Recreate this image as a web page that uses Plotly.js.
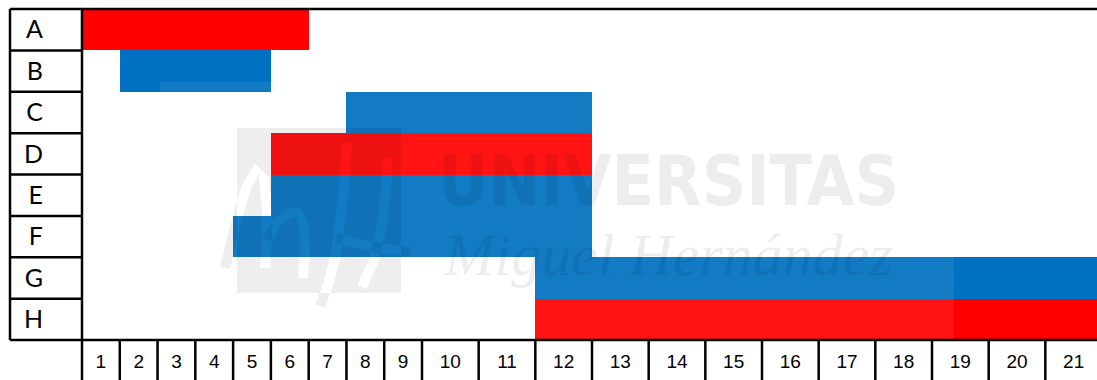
<!DOCTYPE html>
<html>
<head>
<meta charset="utf-8">
<script src="https://cdn.plot.ly/plotly-3.0.1.min.js"></script>
<style>
html,body{margin:0;padding:0;background:#ffffff;}
#chart{width:1097px;height:380px;}
</style>
</head>
<body>
<div id="chart"></div>
<script>
// ---------------- DATA ----------------
const tasks = ['A', 'B', 'C', 'D', 'E', 'F', 'G', 'H'];
const startDay = [1, 2, 8, 6, 6, 5, 12, 12];
const endDay = [6, 5, 12, 12, 12, 12, 21, 21];
const taskColors = ['#FF0000', '#0070C0', '#0070C0', '#FF0000', '#0070C0', '#0070C0', '#0070C0', '#FF0000'];
const days = [1, 2, 3, 4, 5, 6, 7, 8, 9, 10, 11, 12, 13, 14, 15, 16, 17, 18, 19, 20, 21];
const dayLabels = ['1', '2', '3', '4', '5', '6', '7', '8', '9', '10', '11', '12', '13', '14', '15', '16', '17', '18', '19', '20', '21'];
const watermarkTitle = 'UNIVERSITAS';
const watermarkSubtitle = 'Miguel Hernández';

// ---------------- LAYOUT GEOMETRY ----------------
const W = 1097, H = 380;
const M = {l: 82, r: 0, t: 9, b: 40};
const plotW = W - M.l - M.r, plotH = H - M.t - M.b;
// columns 1..9 are narrow, 10.. are 1.5x wider (as in the spreadsheet)
function colUnit(d) { return d <= 9 ? 1 : 1.5; }
function edge(d) { let s = 0; for (let k = 1; k <= d; k++) s += colUnit(k); return s; }
const narrowPx = (422 - 82) / 9;
const xMax = plotW / narrowPx;

const px2x = px => (px - M.l) / plotW;
const py2y = py => (H - M.b - py) / plotH;

const bases = startDay.map(s => edge(s - 1));
const lengths = startDay.map((s, i) => edge(endDay[i]) - edge(s - 1));
const tickCenters = days.map(d => edge(d - 1) + colUnit(d) / 2);

// ---------------- TRACE ----------------
const trace = {
  type: 'bar',
  orientation: 'h',
  y: tasks,
  x: lengths,
  base: bases,
  marker: {color: taskColors, line: {width: 0}},
  hoverinfo: 'skip',
  showlegend: false
};

// ---------------- SHAPES ----------------
const shapes = [];
const black = '#000000';
const lw = 2.5;
function hline(y, x0, x1) {
  shapes.push({type: 'line', xref: 'paper', yref: 'paper', x0: x0, x1: x1, y0: y, y1: y, line: {color: black, width: lw}, layer: 'above'});
}
function vline(x, y0, y1) {
  shapes.push({type: 'line', xref: 'paper', yref: 'paper', x0: x, x1: x, y0: y0, y1: y1, line: {color: black, width: lw}, layer: 'above'});
}

// watermark: light overlay rectangle
shapes.push({type: 'rect', xref: 'paper', yref: 'paper', x0: px2x(160), x1: px2x(954), y0: py2y(340), y1: py2y(82),
  fillcolor: 'rgba(255,255,255,0.075)', line: {width: 0}, layer: 'above'});

// watermark: logo square with cursive "MH" strokes as holes
const strokes = [
  [[225, 268], [236, 222], [246, 188], [257, 168], [264, 178], [267, 210], [267, 240], [265, 268]],
  [[267, 240], [276, 224], [287, 214], [298, 212], [304, 225], [305, 250], [303, 278]],
  [[347, 143], [345, 175], [341, 215], [335, 258], [328, 285], [320, 306]],
  [[388, 158], [386, 190], [382, 225], [374, 260], [362, 287]],
  [[336, 238], [355, 243], [375, 247], [395, 250], [410, 252]]
];
function band(pts, w) {
  const left = [], right = [];
  for (let i = 0; i < pts.length; i++) {
    const p = pts[i];
    const a = pts[Math.max(0, i - 1)], b = pts[Math.min(pts.length - 1, i + 1)];
    let dx = b[0] - a[0], dy = b[1] - a[1];
    const len = Math.hypot(dx, dy) || 1;
    dx /= len; dy /= len;
    const nx = -dy, ny = dx;
    left.push([p[0] + nx * w, p[1] + ny * w]);
    right.push([p[0] - nx * w, p[1] - ny * w]);
  }
  const poly = left.concat(right.reverse());
  return 'M' + poly.map(q => px2x(q[0]).toFixed(5) + ',' + py2y(q[1]).toFixed(5)).join('L') + 'Z';
}
let logoPath = 'M' + px2x(237) + ',' + py2y(128) + 'L' + px2x(401) + ',' + py2y(128) +
  'L' + px2x(401) + ',' + py2y(293) + 'L' + px2x(237) + ',' + py2y(293) + 'Z';
strokes.forEach(s => { logoPath += band(s, 5); });
shapes.push({type: 'path', xref: 'paper', yref: 'paper', path: logoPath, fillrule: 'evenodd',
  fillcolor: 'rgba(0,0,0,0.068)', line: {width: 0}, layer: 'above'});

// table borders
const xLeft = px2x(10);
hline(1, xLeft, 1);                // top border
hline(0, xLeft, 1);                // bottom of task rows
for (let k = 1; k < tasks.length; k++) hline(k / tasks.length, xLeft, 0);  // label separators
vline(xLeft, 0, 1);
const yBottom = py2y(H + 2);
vline(0, yBottom, 1);
for (let d = 1; d <= days.length; d++) {
  const e = edge(d) / xMax;
  if (e < 1) vline(e, yBottom, 0);
}

// ---------------- ANNOTATION (watermark text, one block) ----------------
const wmText =
  '<span style="font-family:\'DejaVu Sans Condensed\',\'Liberation Sans Narrow\',sans-serif;font-size:69px;font-weight:bold">' + watermarkTitle + '</span>' +
  '<br>' +
  '<span style="font-family:\'Liberation Serif\',\'DejaVu Serif\',serif;font-size:60px;font-style:italic">' + watermarkSubtitle + '</span>';
const annotations = [
  {xref: 'paper', yref: 'paper', x: px2x(668), y: py2y(215), xanchor: 'center', yanchor: 'middle',
   text: wmText, showarrow: false, align: 'center',
   font: {family: '"Liberation Sans", sans-serif', size: 54, color: 'rgba(0,0,0,0.07)'}}
];

const layout = {
  width: W, height: H,
  margin: M,
  paper_bgcolor: '#ffffff',
  plot_bgcolor: '#ffffff',
  bargap: 0,
  showlegend: false,
  xaxis: {
    range: [0, xMax], fixedrange: true,
    tickmode: 'array', tickvals: tickCenters, ticktext: dayLabels,
    showgrid: false, zeroline: false, showline: false, ticks: '',
    tickfont: {family: '"Liberation Sans", Arial, sans-serif', size: 19, color: '#000000'},
    ticklabelstandoff: 8
  },
  yaxis: {
    type: 'category', categoryorder: 'array', categoryarray: tasks,
    range: [tasks.length - 0.5, -0.5], fixedrange: true,
    showgrid: false, zeroline: false, showline: false, ticks: '',
    tickfont: {family: 'Lato, "Open Sans", sans-serif', size: 25, color: '#000000'},
    ticklabelstandoff: 38
  },
  shapes: shapes,
  annotations: annotations
};

Plotly.newPlot('chart', [trace], layout, {displayModeBar: false, staticPlot: true});
</script>
</body>
</html>
